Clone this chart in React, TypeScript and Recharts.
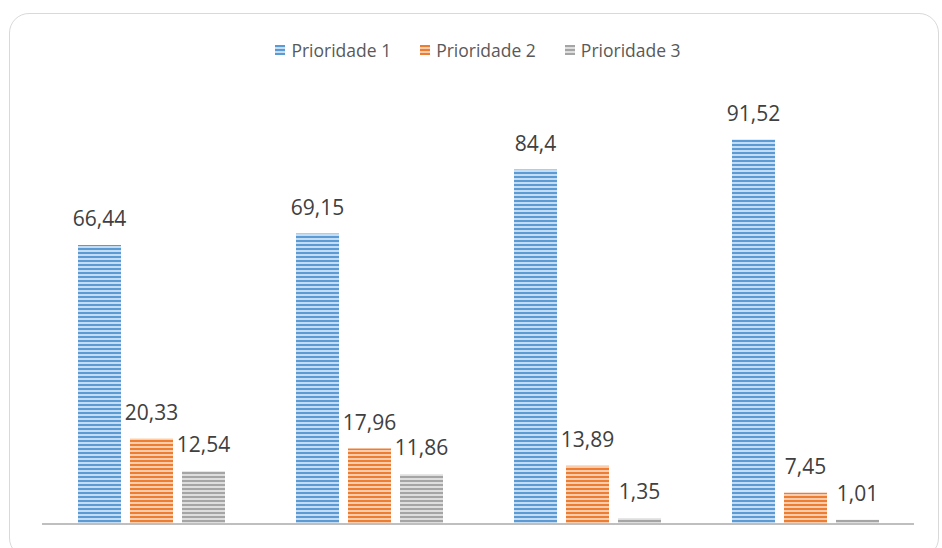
import React from "react";
import { BarChart, Bar, XAxis, YAxis, Legend, LabelList } from "recharts";

const categories = ["A", "B", "C", "D"];
const prioridade1 = [66.44, 69.15, 84.4, 91.52];
const prioridade2 = [20.33, 17.96, 13.89, 7.45];
const prioridade3 = [12.54, 11.86, 1.35, 1.01];

const data = categories.map((c, i) => ({
  name: c,
  p1: prioridade1[i],
  p2: prioridade2[i],
  p3: prioridade3[i],
}));

const fmt = (v: number) => String(v).replace(".", ",");

const stripes = [
  { id: "stripeBlue", dark: "#5b9bd5", light: "#c5dcf1" },
  { id: "stripeOrange", dark: "#ed7d31", light: "#f9cdae" },
  { id: "stripeGray", dark: "#a5a5a5", light: "#dedede" },
];

function LegendContent({ payload }: { payload?: Array<{ value: string; color?: string; payload?: { fill?: string } }> }) {
  if (!payload) return null;
  return (
    <div style={{ display: "flex", justifyContent: "center", alignItems: "center", gap: 29 }}>
      {payload.map((p) => (
        <div key={p.value} style={{ display: "flex", alignItems: "center" }}>
          <svg width={10} height={10} style={{ marginRight: 6 }}>
            <rect width={10} height={10} fill={p.payload?.fill ?? p.color} />
          </svg>
          <span style={{ fontSize: 17.5, color: "#595959" }}>{p.value}</span>
        </div>
      ))}
    </div>
  );
}

export default function App() {
  return (
    <div style={{ position: "absolute", left: 0, top: 0, width: 942, height: 548, background: "#fff", fontFamily: "'Open Sans', sans-serif" }}>
      <div
        style={{
          position: "absolute",
          left: 9,
          top: 13,
          width: 930,
          height: 545,
          border: "1.5px solid #d9d9d9",
          borderRadius: 20,
          boxSizing: "border-box",
        }}
      />
      <BarChart
        width={942}
        height={548}
        data={data}
        margin={{ top: 80, right: 28, bottom: 23, left: 42 }}
        barSize={43}
        barGap={9}
        style={{ position: "absolute", left: 0, top: 0 }}
      >
        <defs>
          {stripes.map((s) => (
            <pattern key={s.id} id={s.id} patternUnits="userSpaceOnUse" width={4} height={4}>
              <rect x={0} y={0} width={4} height={4} fill={s.light} />
              <rect x={0} y={0} width={4} height={2} fill={s.dark} />
            </pattern>
          ))}
        </defs>
        <XAxis dataKey="name" tick={false} tickLine={false} axisLine={{ stroke: "#bfbfbf", strokeWidth: 2 }} height={1} />
        <YAxis hide domain={[0, 100]} />
        <Legend verticalAlign="top" align="center" content={<LegendContent />} wrapperStyle={{ top: 38 }} />
        <Bar dataKey="p1" name="Prioridade 1" fill="url(#stripeBlue)" isAnimationActive={false}>
          <LabelList dataKey="p1" position="top" offset={19} formatter={fmt} fill="#404040" fontSize={21} />
        </Bar>
        <Bar dataKey="p2" name="Prioridade 2" fill="url(#stripeOrange)" isAnimationActive={false}>
          <LabelList dataKey="p2" position="top" offset={19} formatter={fmt} fill="#404040" fontSize={21} />
        </Bar>
        <Bar dataKey="p3" name="Prioridade 3" fill="url(#stripeGray)" isAnimationActive={false}>
          <LabelList dataKey="p3" position="top" offset={19} formatter={fmt} fill="#404040" fontSize={21} />
        </Bar>
      </BarChart>
    </div>
  );
}
